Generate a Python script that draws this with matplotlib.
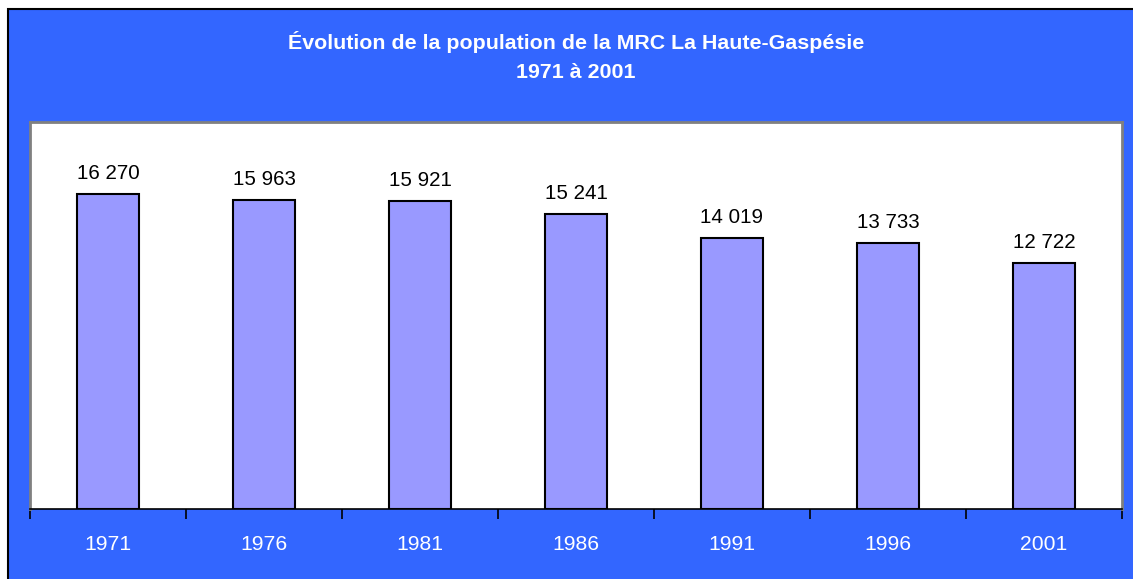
import matplotlib
matplotlib.use("Agg")
import matplotlib.pyplot as plt
from matplotlib.patches import Rectangle

years = ["1971", "1976", "1981", "1986", "1991", "1996", "2001"]
population = [16270, 15963, 15921, 15241, 14019, 13733, 12722]
labels = ["16 270", "15 963", "15 921", "15 241", "14 019", "13 733", "12 722"]

plt.rcParams['font.family'] = ['Liberation Sans', 'DejaVu Sans']

W, H = 1133, 579
fig = plt.figure(figsize=(W/100, H/100), dpi=100, facecolor="white")

# blue background with black border (left and top edges visible)
bg = Rectangle((8/W, -0.2), 1.2, 1.2 - 9/H, transform=fig.transFigure,
               facecolor="#3366FF", edgecolor="black", linewidth=1.5, zorder=-10)
fig.add_artist(bg)

ax = fig.add_axes([30/W, 1 - 509/H, (1122-30)/W, (509-122)/H])
ax.set_zorder(5)
ax.set_facecolor("white")
x = list(range(len(years)))
ax.bar(x, population, width=0.4, color="#9999FF", edgecolor="black", linewidth=1.5, zorder=3)
ax.set_xlim(-0.5, len(years) - 0.5)
ax.set_ylim(0, 20000)
ax.set_yticks([])
ax.set_xticks(x)
ax.set_xticklabels(years, color="white", fontsize=15.2)
ax.tick_params(axis='x', which='major', length=0, pad=19)
ax.set_xticks([i - 0.5 for i in range(len(years) + 1)], minor=True)
ax.tick_params(axis='x', which='minor', length=7, width=1.2, color="black", direction="out")

for s in ["left", "top", "right"]:
    ax.spines[s].set_color("#808080")
    ax.spines[s].set_linewidth(2)
ax.spines["bottom"].set_color("black")
ax.spines["bottom"].set_linewidth(1.2)

for xi, v, lab in zip(x, population, labels):
    ax.annotate(lab, (xi, v), xytext=(0, 8), textcoords="offset points",
                ha="center", va="bottom", fontsize=14.8, color="black")

fig.text(576/W, 1 - 42/H, "Évolution de la population de la MRC La Haute-Gaspésie",
         ha="center", va="center", color="white", fontsize=15.4, fontweight="bold")
fig.text(576/W, 1 - 73/H, "1971 à 2001",
         ha="center", va="center", color="white", fontsize=15.4, fontweight="bold")

fig.savefig("out.png", dpi=100, facecolor=fig.get_facecolor())
